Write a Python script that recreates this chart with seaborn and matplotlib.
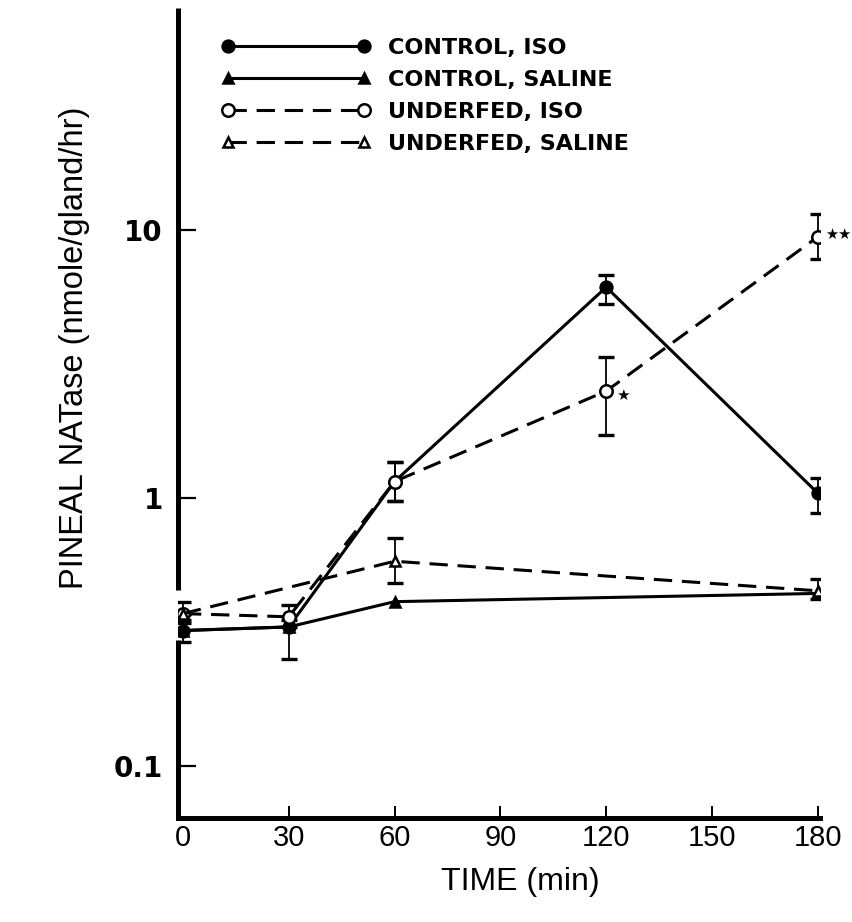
import matplotlib
matplotlib.use("Agg")
import matplotlib.pyplot as plt
import seaborn as sns
import pandas as pd
import numpy as np

# ---------------- data ----------------
time_ctrl_iso = [0, 30, 60, 120, 180]
ctrl_iso = [0.32, 0.33, 1.15, 6.1, 1.04]
ctrl_iso_lo = [0.29, 0.25, 0.97, 5.3, 0.88]
ctrl_iso_hi = [0.35, 0.35, 1.36, 6.8, 1.19]

time_ctrl_sal = [0, 30, 60, 180]
ctrl_sal = [0.32, 0.33, 0.41, 0.44]

time_uf_iso = [0, 30, 60, 120, 180]
uf_iso = [0.37, 0.36, 1.15, 2.5, 9.4]
uf_iso_lo = [0.34, 0.33, 0.97, 1.72, 7.8]
uf_iso_hi = [0.41, 0.40, 1.36, 3.36, 11.4]

time_uf_sal = [0, 60, 180]
uf_sal = [0.37, 0.58, 0.45]
uf_sal_lo = [0.37, 0.48, 0.42]
uf_sal_hi = [0.37, 0.71, 0.50]

labels = ["CONTROL, ISO", "CONTROL, SALINE", "UNDERFED, ISO", "UNDERFED, SALINE"]
x_ticks = [0, 30, 60, 90, 120, 150, 180]
x_ticklabels = ["0", "30", "60", "90", "120", "150", "180"]
y_ticks = [0.1, 1, 10]
y_ticklabels = ["0.1", "1", "10"]
sig_120 = "★"
sig_180 = "★★"

# ---------------- style ----------------
sns.set_style("ticks")
plt.rcParams["font.family"] = ["Liberation Sans", "DejaVu Sans"]
for k in ["text.color", "axes.labelcolor", "xtick.color", "ytick.color",
          "axes.edgecolor", "legend.labelcolor"]:
    plt.rcParams[k] = "black"

fig = plt.figure(figsize=(8.53, 9.22), dpi=100)
ax = fig.add_axes([0.2087, 0.1128, 0.7526, 0.8785])

LW = 2.2

series = [
    (time_ctrl_iso, ctrl_iso, labels[0], "o", "black", None, 8.5),
    (time_ctrl_sal, ctrl_sal, labels[1], "^", "black", None, 6.5),
    (time_uf_iso, uf_iso, labels[2], "o", "white", (6, 3.2), 9.0),
    (time_uf_sal, uf_sal, labels[3], "^", "white", (6, 3.2), 6.5),
]

for t, v, lab, mk, fc, dash, ms in series:
    df = pd.DataFrame({"time": t, "value": v})
    sns.lineplot(data=df, x="time", y="value", ax=ax, color="black",
                 linewidth=LW, marker=mk, markersize=ms,
                 markerfacecolor=fc, markeredgecolor="black",
                 markeredgewidth=1.8, label=lab, zorder=3)
    line = ax.get_lines()[-1]
    if dash:
        line.set_dashes(dash)

# error bars
for t, v, lo, hi in [(time_ctrl_iso, ctrl_iso, ctrl_iso_lo, ctrl_iso_hi),
                     (time_uf_iso, uf_iso, uf_iso_lo, uf_iso_hi),
                     (time_uf_sal, uf_sal, uf_sal_lo, uf_sal_hi)]:
    v = np.array(v); lo = np.array(lo); hi = np.array(hi)
    ax.errorbar(t, v, yerr=[v - lo, hi - v], fmt="none", ecolor="black",
                elinewidth=1.3, capsize=5.8, capthick=2.4, zorder=2)

# significance stars
ax.annotate(sig_120, xy=(time_uf_iso[3], uf_iso[3]), xytext=(7, -3),
            textcoords="offset points", ha="left", va="center",
            fontsize=11, family="DejaVu Sans", color="black")
ax.annotate(sig_180, xy=(time_uf_iso[4], uf_iso[4]), xytext=(5, 2),
            textcoords="offset points", ha="left", va="center",
            fontsize=10.5, family="DejaVu Sans", color="black")

# axes
ax.set_yscale("log")
ax.set_ylim(0.064, 67)
ax.set_xlim(-1.4, 180.6)
ax.set_yticks(y_ticks)
ax.set_yticklabels(y_ticklabels, fontsize=20, fontweight="bold",
                   family="DejaVu Sans")
ax.yaxis.set_minor_locator(matplotlib.ticker.NullLocator())
ax.set_xticks(x_ticks)
ax.set_xticklabels(x_ticklabels, fontsize=21)
ax.tick_params(axis="y", direction="in", length=13, width=1.6, pad=11,
               colors="black")
ax.tick_params(axis="x", direction="in", length=9, width=1.4, pad=4,
               colors="black")
ax.xaxis.get_major_ticks()[0].tick1line.set_visible(False)

ax.set_xlabel("TIME (min)", fontsize=23, color="black")
ax.xaxis.set_label_coords(0.533, -0.061)
ax.set_ylabel("PINEAL NATase (nmole/gland/hr)", fontsize=23.5, color="black")
ax.yaxis.set_label_coords(-0.137, 0.581)

for s in ["top", "right", "left"]:
    ax.spines[s].set_visible(False)
ax.spines["bottom"].set_linewidth(3.6)
ax.spines["bottom"].set_color("black")
# broken left axis
ax.plot([0, 0], [0, 0.22], transform=ax.transAxes, color="black",
        lw=3.6, clip_on=False, solid_capstyle="butt")
ax.plot([0, 0], [0.281, 1.0], transform=ax.transAxes, color="black",
        lw=3.6, clip_on=False, solid_capstyle="butt")

leg = ax.legend(loc="upper left", bbox_to_anchor=(0.068, 0.963), frameon=False,
                numpoints=2, handlelength=6.7, handletextpad=0.8,
                labelspacing=0.54, borderpad=0, borderaxespad=0,
                prop={"size": 16, "weight": "bold", "family": "DejaVu Sans"})
for txt in leg.get_texts():
    txt.set_color("black")

fig.savefig("out.png", dpi=100)
